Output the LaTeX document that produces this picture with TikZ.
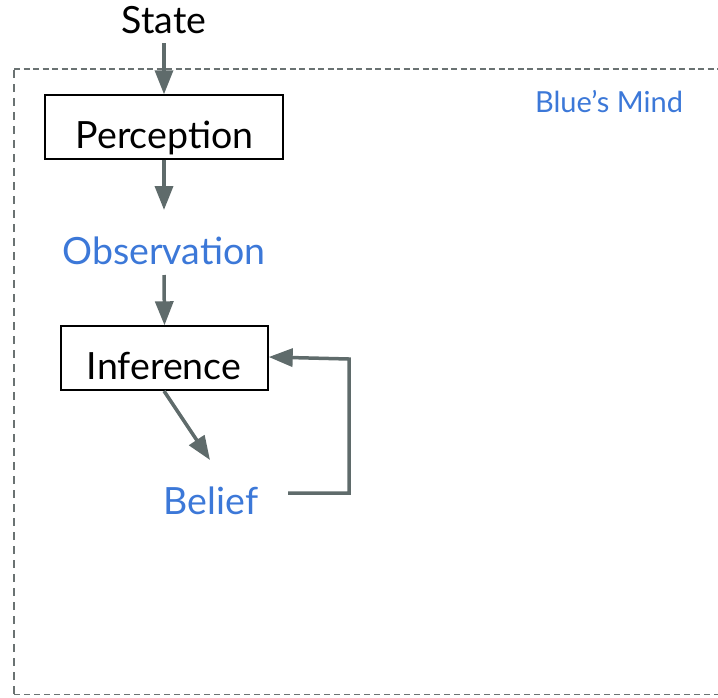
\documentclass[tikz,border=0pt]{standalone}
\usepackage{fontspec}
\setmainfont{Lato}
\usetikzlibrary{arrows.meta}
\definecolor{arrowgray}{HTML}{5F6B6B}
\definecolor{dashgray}{HTML}{6A7272}
\definecolor{mindblue}{HTML}{3C78D8}
\tikzset{
  tip/.style={-{Triangle[length=24pt,width=18pt]}},
  flow/.style={draw=arrowgray, line width=3.5pt, tip},
  procbox/.style={draw=black, line width=1.4pt, minimum height=64pt, inner sep=0pt},
  word/.style={font=\fontsize{37.5}{40}\selectfont, inner sep=0pt, anchor=base},
  blueword/.style={word, text=mindblue},
  border/.style={dashgray, line width=1.5pt},
}
\begin{document}
\begin{tikzpicture}[x=1pt,y=-1pt]
  \useasboundingbox (0,0) rectangle (718,697);
  % the mind's boundary
  \draw[border, dash pattern=on 8pt off 6pt] (14,694) -- (14,69);
  \draw[border, dash pattern=on 6pt off 3.5pt] (14,69) -- (722,69);
  \draw[border, dash pattern=on 6pt off 4pt, line width=1.2pt] (14,694.5) -- (722,694.5);
  \node[text=mindblue, font=\fontsize{29}{32}\selectfont, inner sep=0pt, anchor=base] (mind) at (609,112) {Blue’s Mind};

  % boxes
  \node[procbox, minimum width=238pt] (perc) at (164,127) {};
  \node[procbox, minimum width=207pt] (inf) at (164.5,358) {};

  % words
  \node[word] (state) at (164,33) {State};
  \node[word] (perctext) at (164.5,148) {Perception};
  \node[blueword] (obs) at (164,264) {Observation};
  \node[word] (inftext) at (164,379) {Inference};
  \node[blueword] (bel) at (211,514) {Belief};

  \coordinate (s0) at (164,43);
  \coordinate (p0) at (164,210);
  \coordinate (o0) at (164,275);
  \coordinate (i0) at (164,391);
  \coordinate (b0) at (210,460);
  \coordinate (f0) at (288,493);
  \coordinate (f1) at (349,493);
  \coordinate (f2) at (349,359);

  \draw[flow] (s0) -- (perc.north);
  \draw[flow] (perc.south) -- (p0);
  \draw[flow] (o0) -- (inf.north);
  \draw[flow] (i0) -- (b0);
  \draw[flow] (f0) -- (f1) -- (f2) -- (inf.east |- 0,357);
\end{tikzpicture}
\end{document}
